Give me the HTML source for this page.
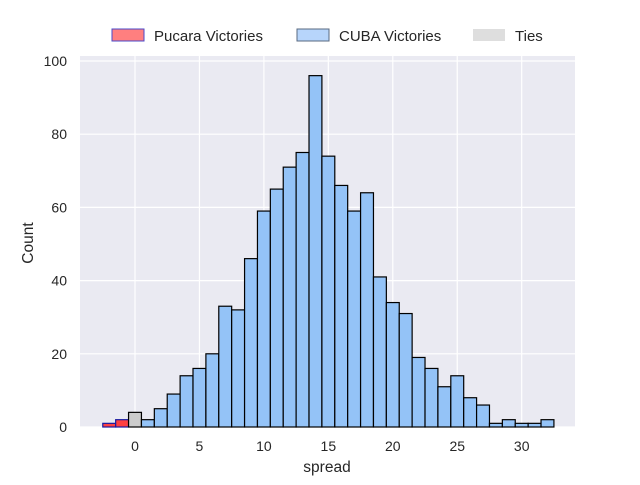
<!DOCTYPE html>
<html><head><meta charset="utf-8"><style>
body{margin:0;background:#fff;font-family:"Liberation Sans","DejaVu Sans",sans-serif}
svg text{font-family:"Liberation Sans","DejaVu Sans",sans-serif;fill:#262626}
</style></head><body>
<svg id="c" width="640" height="480">
<rect x="80" y="56" width="495" height="371" fill="#eaeaf2"/>
<g id="grid"></g><g id="bars"></g><g id="ticks"></g>
<text x="327" y="472" font-size="15.5" text-anchor="middle">spread</text>
<text x="0" y="0" font-size="15.5" text-anchor="middle" transform="translate(33,243) rotate(-90)">Count</text>
<g>
<g><rect x="112" y="29" width="32" height="12" fill="#ff7f7f" stroke="#4a4acb"/><text x="154" y="41" font-size="15">Pucara Victories</text></g>
<g><rect x="297" y="29" width="32" height="12" fill="#b7d5fb" stroke="#5a6a80"/><text x="339" y="41" font-size="15">CUBA Victories</text></g>
<g><rect x="473" y="29" width="32" height="12" fill="#dedede"/><text x="515" y="41" font-size="15">Ties</text></g>
</g>
</svg>
<script>
const spreads=[-2,-1,0,1,2,3,4,5,6,7,8,9,10,11,12,13,14,15,16,17,18,19,20,21,22,23,24,25,26,27,28,29,30,31,32];
const counts=[1,2,4,2,5,9,14,16,20,33,32,46,59,65,71,75,96,74,66,59,64,41,34,31,19,16,11,14,8,6,1,2,1,1,2];
const xTicks=[0,5,10,15,20,25,30];
const yTicks=[0,20,40,60,80,100];
const NS="http://www.w3.org/2000/svg";
const X=v=>135+v*12.89, Y=v=>427-v*3.66;
function mk(t,a,p){const e=document.createElementNS(NS,t);for(const k in a)e.setAttribute(k,a[k]);p.appendChild(e);return e;}
const g=document.getElementById('grid'),b=document.getElementById('bars'),t=document.getElementById('ticks');
xTicks.forEach(v=>{
 const l=mk('line',{x1:X(v),x2:X(v),y1:56,y2:427,stroke:'#fff','stroke-width':1.2},g);
 
 
 const s=mk('text',{x:X(v),y:451,'font-size':14,'text-anchor':'middle'},t);s.textContent=v;
 
 
});
yTicks.forEach(v=>{
 const l=mk('line',{x1:80,x2:575,y1:Y(v),y2:Y(v),stroke:'#fff','stroke-width':1.2},g);
 
 
 const s=mk('text',{x:67,y:Y(v)+5,'font-size':14,'text-anchor':'end'},t);s.textContent=v;
 
 
});
spreads.forEach((s,i)=>{
 const fill=s<0?'#ff4040':(s===0?'#cccccc':'#94c3f7');
 const stroke=s<0?'#1a1aa0':'#000';
 const r=mk('rect',{x:X(s-0.5),y:Y(counts[i]),width:12.89,height:427-Y(counts[i]),fill:fill,stroke:stroke,'stroke-width':1.2},b);
 
 
});
</script>
</body></html>
